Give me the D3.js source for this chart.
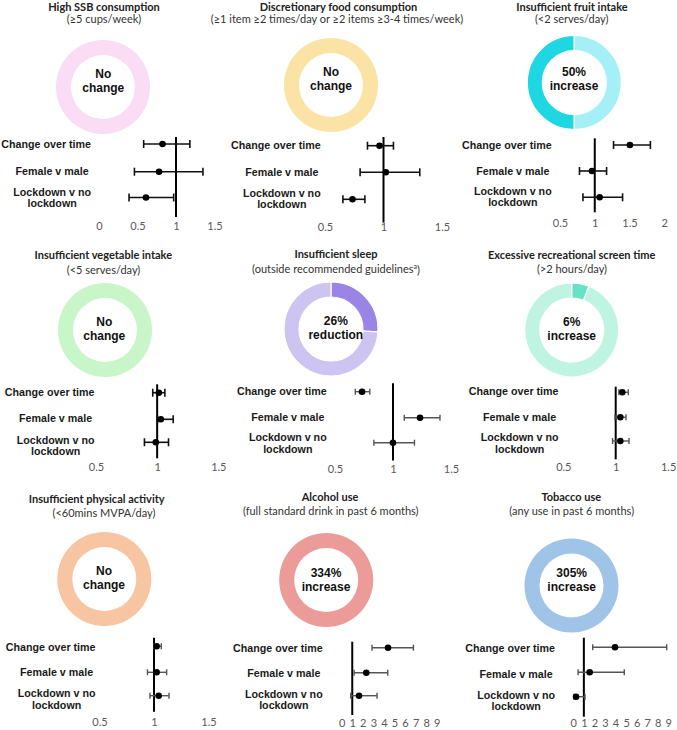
<!DOCTYPE html>
<html><head><meta charset="utf-8">
<script src="https://cdn.jsdelivr.net/npm/d3@7"></script>
<style>
body{margin:0;background:#fff;}
svg{display:block;}
</style></head>
<body><svg id="chart" width="677" height="730"></svg>
<script>
// ---------- DATA ----------
const titles = ["High SSB consumption","Discretionary food consumption","Insufficient fruit intake",
  "Insufficient vegetable intake","Insufficient sleep","Excessive recreational screen time",
  "Insufficient physical activity","Alcohol use","Tobacco use"];
const subtitles = ["(\u22655 cups/week)","(\u22651 item \u22652 times/day or \u22652 items \u22653-4 times/week)","(<2 serves/day)",
  "(<5 serves/day)","(outside recommended guidelines","(>2 hours/day)",
  "(<60mins MVPA/day)","(full standard drink in past 6 months)","(any use in past 6 months)"];
const subtitleSup = ["","","","","a","","","",""];
const changeLine1 = ["No","No","50%","No","26%","6%","No","334%","305%"];
const changeLine2 = ["change","change","increase","change","reduction","increase","change","increase","increase"];
const changeShare = [0,0,0.5,0,0.26,0.06,0,0,0];
const rowLabels = [["Change over time"],["Female v male"],["Lockdown v no","lockdown"]];
const estimates = [
  [0.825,0.78,0.61],[0.966,1.02,0.735],[1.505,0.96,1.07],
  [1.014,1.03,0.989],[0.733,1.233,1.0],[1.063,1.044,1.044],
  [1.024,1.024,1.043],[4.39,2.33,1.64],[3.95,1.55,0.26]];
const lowerCI = [
  [0.58,0.46,0.39],[0.863,0.80,0.653],[1.27,0.78,0.83],
  [0.964,1.003,0.896],[0.675,1.097,0.835],[1.03,0.993,0.97],
  [1.0,0.94,0.963],[2.87,1.17,0.85],[1.84,0.45,0.07]];
const upperCI = [
  [1.18,1.35,0.97],[1.085,1.31,0.841],[1.80,1.17,1.40],
  [1.063,1.131,1.093],[0.80,1.405,1.185],[1.12,1.098,1.127],
  [1.067,1.116,1.138],[6.79,4.36,3.35],[8.85,4.83,1.11]];
const axisTicks = [
  [0,0.5,1,1.5],[0.5,1,1.5],[0.5,1,1.5,2],
  [0.5,1,1.5],[0.5,1,1.5],[0.5,1,1.5],
  [0.5,1,1.5],[0,1,2,3,4,5,6,7,8,9],[0,1,2,3,4,5,6,7,8,9]];
const referenceValue = 1;

// ---------- STYLE / LAYOUT ----------
const ringColors = [
  {base:"#fadcf4",hi:null},{base:"#fbe3a6",hi:null},{base:"#a4f0f6",hi:"#1fd6e3"},
  {base:"#c9f6c9",hi:null},{base:"#cdc4f1",hi:"#9a84e6"},{base:"#bff4e3",hi:"#67e2c4"},
  {base:"#f7c5a1",hi:null},{base:"#eb9c99",hi:null},{base:"#9fc4e7",hi:null}];
const ringClockwise = [true,true,false,true,true,true,true,true,true];
const barColor = ["#111","#111","#111","#111","#555","#555","#555","#555","#555"];
const layout = [
 {tx:104,ty:7,sx:104,sy:19.5,cx:103,cy:87,tcy:80.3,tcx:103.3,dom:[0,1.5],rng:[99,214.5],rowY:[144,171.7,197.5],labY:[144,171.7,197.8],labEnd:91,lineY:[137,217],tickY:225.7},
 {tx:338.5,ty:7,sx:337,sy:19.5,cx:331,cy:85,tcy:78.7,tcx:331,dom:[0.5,1.5],rng:[325,442],rowY:[145.7,172.3,199.3],labY:[145.7,172.3,198.8],labEnd:320.7,lineY:[137,222.6],tickY:226.7},
 {tx:572,ty:7,sx:571.7,sy:19.5,cx:574.3,cy:82.5,tcy:79,tcx:574,dom:[0.5,2],rng:[560,664.3],rowY:[145,171,197.3],labY:[145,171,197],labEnd:551.7,lineY:[138.3,212.3],tickY:223.3},
 {tx:103.3,ty:255.5,sx:103.5,sy:270,cx:105,cy:330,tcy:328.7,tcx:104.3,dom:[0.5,1.5],rng:[96,218.3],rowY:[392.7,419.3,442.3],labY:[392.7,418.7,445.5],labEnd:94.5,lineY:[384.3,458.3],tickY:466.7},
 {tx:336,ty:254.5,sx:336,sy:269.5,cx:331,cy:329,tcy:327.7,tcx:335.8,dom:[0.5,1.5],rng:[335,451],rowY:[391.7,417.7,442.7],labY:[391.7,417.7,443.3],labEnd:326.7,lineY:[383.3,460.5],tickY:469},
 {tx:571.7,ty:255,sx:572,sy:269.5,cx:571.7,cy:330,tcy:328.3,tcx:571.7,dom:[0.5,1.5],rng:[563.3,668.1],rowY:[392.3,417.3,441],labY:[391.7,417.3,443.3],labEnd:558.5,lineY:[386.7,459.3],tickY:467.3},
 {tx:96.7,ty:499,sx:104,sy:513.3,cx:104.3,cy:579,tcy:578,tcx:104,dom:[0.5,1.5],rng:[99.5,208.5],rowY:[646.3,672.3,695.7],labY:[647.3,672.7,699.2],labEnd:95.5,lineY:[637.7,711.7],tickY:722.3},
 {tx:330,ty:497.3,sx:330.7,sy:511,cx:326.2,cy:580,tcy:580,tcx:326,dom:[0,9],rng:[341.7,436.7],rowY:[647.7,672.7,695.7],labY:[648.3,673.3,700],labEnd:322.7,lineY:[641.7,715],tickY:722.7},
 {tx:571.3,ty:496.7,sx:571.7,sy:510.7,cx:571.5,cy:585.5,tcy:579.7,tcx:571.7,dom:[0,9],rng:[573.3,668.3],rowY:[647.3,672.3,696.7],labY:[648.3,674,700.5],labEnd:555,lineY:[637.7,716.7],tickY:722.7}
];
const R_OUT = 47, R_IN = 32;
const titleFont = "Lato, 'Open Sans', sans-serif";
const labelFont = "'Liberation Sans', Arial, sans-serif";

const svg = d3.select("#chart");
svg.append("rect").attr("width",677).attr("height",730).attr("fill","#fff");

titles.forEach((title, i) => {
  const L = layout[i];
  const g = svg.append("g");
  // titles
  g.append("text").attr("x",L.tx).attr("y",L.ty).attr("dy","0.35em")
    .attr("text-anchor","middle").attr("font-family",titleFont).attr("font-weight","bold")
    .attr("font-size",11).attr("fill","#222").text(title);
  const st = g.append("text").attr("x",L.sx).attr("y",L.sy).attr("dy","0.35em")
    .attr("text-anchor","middle").attr("font-family",titleFont)
    .attr("font-size",11).attr("fill","#333");
  st.append("tspan").text(subtitles[i]);
  if (subtitleSup[i]) {
    st.append("tspan").attr("font-size",7).attr("dy","-0.6em").text(subtitleSup[i]);
    st.append("tspan").attr("dy","0.45em").text(")");
  }
  // donut
  const share = changeShare[i];
  const pie = d3.pie().sort(null).value(d => d.v)
    .startAngle(ringClockwise[i] ? 0 : 2*Math.PI).endAngle(ringClockwise[i] ? 2*Math.PI : 0);
  const slices = share > 0 ? [{v:share,c:ringColors[i].hi},{v:1-share,c:ringColors[i].base}]
                           : [{v:1,c:ringColors[i].base}];
  const arc = d3.arc().innerRadius(R_IN).outerRadius(R_OUT);
  const dg = g.append("g").attr("transform",`translate(${L.cx},${L.cy})`);
  dg.selectAll("path").data(pie(slices)).join("path")
    .attr("d",arc).attr("fill",d => d.data.c)
    .attr("stroke", share > 0 ? "#fff" : "none").attr("stroke-width",1.2);
  [changeLine1[i], changeLine2[i]].forEach((t, k) => {
    g.append("text").attr("x",L.tcx).attr("y",L.tcy + (k === 0 ? -7 : 7)).attr("dy","0.35em")
      .attr("text-anchor","middle").attr("font-family",labelFont).attr("font-weight","bold")
      .attr("font-size",12).attr("fill","#111").text(t);
  });
  // forest plot
  const x = d3.scaleLinear().domain(L.dom).range(L.rng);
  const axis = d3.axisBottom(x).tickValues(axisTicks[i]).tickSize(0).tickPadding(0)
    .tickFormat(d3.format("~g"));
  const ag = g.append("g").attr("transform",`translate(0,${L.tickY})`).call(axis);
  ag.select(".domain").remove();
  ag.selectAll("text").attr("font-family",titleFont).attr("font-size",11)
    .attr("fill","#595959").attr("dy","0.35em").attr("y",0);
  g.append("line").attr("x1",x(referenceValue)).attr("x2",x(referenceValue))
    .attr("y1",L.lineY[0]).attr("y2",L.lineY[1]).attr("stroke","#000").attr("stroke-width",2);
  const capH = i < 4 ? 4 : 3;
  const sw = i < 4 ? 1.6 : 1.4;
  estimates[i].forEach((est, r) => {
    const y = L.rowY[r];
    const bg = g.append("g").attr("stroke",barColor[i]).attr("stroke-width",sw);
    bg.append("line").attr("x1",x(lowerCI[i][r])).attr("x2",x(upperCI[i][r])).attr("y1",y).attr("y2",y);
    [lowerCI[i][r], upperCI[i][r]].forEach(v => {
      bg.append("line").attr("x1",x(v)).attr("x2",x(v)).attr("y1",y-capH).attr("y2",y+capH);
    });
    g.append("circle").attr("cx",x(est)).attr("cy",y).attr("r",3.3).attr("fill","#000");
  });
  // row labels
  const lg = g.append("g").attr("font-family",labelFont).attr("font-weight","bold")
    .attr("font-size",10.7).attr("fill","#1a1a1a").attr("text-anchor","middle");
  const tmp = lg.append("text").text(rowLabels[2][0]);
  const wRef = tmp.node().getComputedTextLength();
  tmp.remove();
  const centre = L.labEnd - wRef/2;
  rowLabels.forEach((lines, r) => {
    lines.forEach((t, k) => {
      const yy = L.labY[r] + (lines.length === 2 ? (k === 0 ? -5.6 : 5.6) : 0);
      const tx = lg.append("text").attr("y",yy).attr("dy","0.35em").text(t);
      const w = tx.node().getComputedTextLength();
      tx.attr("x", Math.min(centre, L.labEnd - w/2));
    });
  });
});
</script></body></html>
